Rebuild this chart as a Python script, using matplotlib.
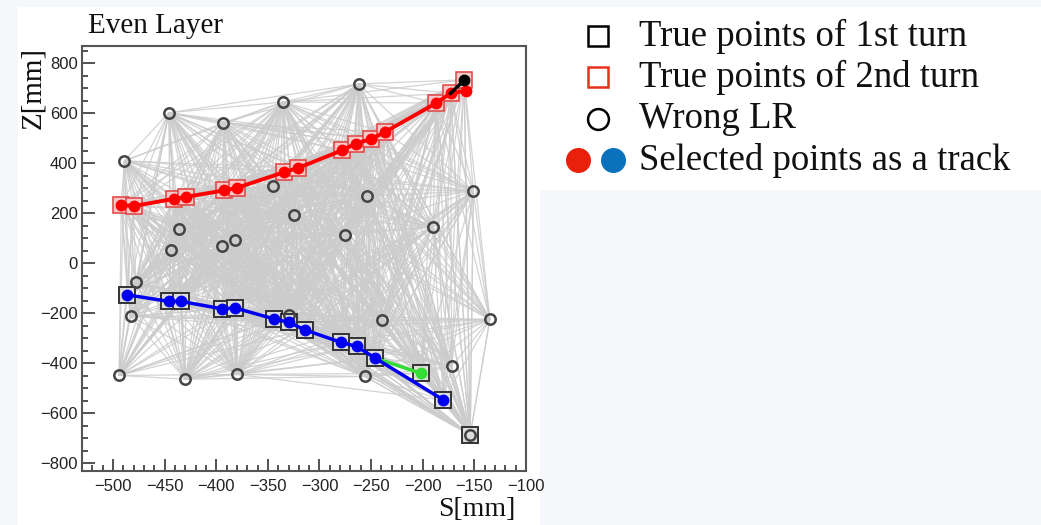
import matplotlib
matplotlib.use("Agg")
import matplotlib.pyplot as plt
from matplotlib.patches import Rectangle
from matplotlib.ticker import MultipleLocator
from matplotlib.lines import Line2D
import numpy as np

# ---------------- data ----------------
# True points of 2nd turn (red squares)
red_sq_s = [-492, -480, -441, -429, -392, -380, -334, -321, -278, -265, -250, -237, -187, -173, -160]
red_sq_z = [233, 228, 257, 265, 291, 301, 364, 380, 451, 478, 496, 523, 640, 679, 733]
# Selected points (red track)
red_trk_s = [-492, -480, -441, -429, -392, -380, -334, -321, -278, -265, -250, -237, -187, -173, -158]
red_trk_z = [233, 228, 257, 265, 291, 301, 364, 380, 451, 478, 496, 523, 640, 679, 689]
# black selected segment
blk_s = [-173, -160]
blk_z = [679, 731]
# True points of 1st turn (black squares)
blk_sq_s = [-486, -446, -434, -394, -382, -344, -330, -314, -279, -264, -246, -180, -202, -154]
blk_sq_z = [-127, -153, -153, -183, -179, -223, -236, -267, -317, -333, -380, -547, -440, -687]
# Selected points (blue track)
blue_trk_s = [-486, -446, -434, -394, -382, -344, -330, -314, -279, -264, -246, -180]
blue_trk_z = [-127, -153, -153, -183, -179, -223, -236, -267, -317, -333, -380, -547]
# green branch
green_s = [-246, -202]
green_z = [-380, -440]
# Wrong LR (open circles)
wlr_s = [-489, -446, -393, -335, -262, -345, -325, -254, -151, -436, -444, -394, -382, -275, -190,
         -478, -483, -330, -239, -135, -494, -430, -380, -256, -172, -154]
wlr_z = [409, 601, 561, 644, 716, 309, 192, 269, 288, 136, 51, 69, 91, 113, 144,
         -76, -212, -207, -229, -225, -449, -464, -445, -453, -412, -687]

x_ticks = [-500, -450, -400, -350, -300, -250, -200, -150, -100]
y_ticks = [-800, -600, -400, -200, 0, 200, 400, 600, 800]

legend_labels = ["True points of 1st turn", "True points of 2nd turn", "Wrong LR",
                 "Selected points as a track"]

# ---------------- figure ----------------
W, H = 1041, 525
fig = plt.figure(figsize=(W / 100, H / 100), dpi=100)
fig.patch.set_facecolor("#f5f7fa")

def fx(px):
    return px / W

def fy(py):
    return 1 - py / H

fig.patches.append(Rectangle((fx(18), 0), fx(540) - fx(18), fy(7), transform=fig.transFigure,
                             facecolor="white", edgecolor="none", zorder=-10))
fig.patches.append(Rectangle((fx(540), fy(190)), 1 - fx(540), fy(7) - fy(190),
                             transform=fig.transFigure, facecolor="white", edgecolor="none",
                             zorder=-10))

ax = fig.add_axes([fx(82), fy(471), fx(526) - fx(82), fy(46) - fy(471)])
ax.set_zorder(2)
ax.set_facecolor("white")
ax.set_xlim(-530, -100)
ax.set_ylim(-831, 868)

# gray candidate mesh: every pair of hits within 200 mm in S
all_s = np.array(red_sq_s + blk_sq_s + wlr_s, dtype=float)
all_z = np.array(red_sq_z + blk_sq_z + wlr_z, dtype=float)
n = len(all_s)
for i in range(n):
    for j in range(i + 1, n):
        if abs(all_s[i] - all_s[j]) <= 200:
            ax.plot([all_s[i], all_s[j]], [all_z[i], all_z[j]], color="#cccccc", lw=0.9,
                    alpha=0.85, zorder=1, solid_capstyle="butt")

# squares
ax.plot(red_sq_s, red_sq_z, ls="none", marker="s", ms=11.5, mfc="#f6c9c9", mec="#e04040",
        mew=1.1, zorder=3)
ax.plot(blk_sq_s, blk_sq_z, ls="none", marker="s", ms=11.5, mfc="#dddddd", mec="#333333",
        mew=1.4, zorder=3)
# wrong LR circles
ax.plot(wlr_s, wlr_z, ls="none", marker="o", ms=7.5, mfc="none", mec="#444444", mew=1.8, zorder=4)

# tracks
ax.plot(red_trk_s, red_trk_z, color="#ff0000", lw=2.8, marker="o", ms=7.5, mfc="#ff0000",
        mec="#ff0000", zorder=5)
ax.plot(blk_s, blk_z, color="black", lw=2.5, zorder=5)
ax.plot(blk_s[1:], blk_z[1:], ls="none", marker="o", ms=7.5, color="black", zorder=6)
ax.plot(green_s, green_z, color="#33dd33", lw=2.5, zorder=5)
ax.plot(green_s[1:], green_z[1:], ls="none", marker="o", ms=7.5, color="#33dd33", zorder=6)
ax.plot(blue_trk_s, blue_trk_z, color="#0000ee", lw=2.5, marker="o", ms=7.5, mfc="#0000ee",
        mec="#0000ee", zorder=6)

# axes styling (ROOT-like)
for sp in ax.spines.values():
    sp.set_color("#555555")
    sp.set_linewidth(1.5)
ax.set_xticks(x_ticks)
ax.set_yticks(y_ticks)
ax.set_xticklabels([f"\u2212{abs(v)}" if v < 0 else f"{v}" for v in x_ticks])
ax.set_yticklabels([f"\u2212{abs(v)}" if v < 0 else f"{v}" for v in y_ticks])
ax.xaxis.set_minor_locator(MultipleLocator(10))
ax.yaxis.set_minor_locator(MultipleLocator(50))
ax.tick_params(which="both", direction="in", color="#444444", width=1.3,
               labelsize=12, labelcolor="#222222")
ax.tick_params(which="major", length=9)
ax.tick_params(which="minor", length=4.5)
ax.tick_params(axis="x", which="major", pad=6)
ax.tick_params(axis="y", which="major", pad=3)
for lab in ax.get_xticklabels() + ax.get_yticklabels():
    lab.set_family(["Liberation Sans", "DejaVu Sans"])

serif = ["Liberation Serif", "DejaVu Serif"]
fig.text(fx(88), fy(26), "Even Layer", family=serif, fontsize=21, ha="left", va="center",
         color="#111111")
fig.text(fx(515), fy(509), "S[mm]", family=serif, fontsize=20, ha="right", va="center",
         color="#111111")
fig.text(fx(33), fy(88), "Z[mm]", family=serif, fontsize=21, ha="center", va="center",
         rotation=90, color="#111111")

# legend (manual)
ly = [36, 77, 119, 160]
fig.add_artist(Line2D([fx(598)], [fy(ly[0])], marker="s", ms=15, mfc="none", mec="black",
                      mew=1.8, transform=fig.transFigure))
fig.add_artist(Line2D([fx(598)], [fy(ly[1])], marker="s", ms=15, mfc="none", mec="#e8301c",
                      mew=1.8, transform=fig.transFigure))
fig.add_artist(Line2D([fx(598)], [fy(ly[2])], marker="o", ms=15, mfc="none", mec="black",
                      mew=1.8, transform=fig.transFigure))
fig.add_artist(Line2D([fx(578)], [fy(ly[3])], marker="o", ms=17, mfc="#e8200c", mec="#e8200c",
                      transform=fig.transFigure))
fig.add_artist(Line2D([fx(613)], [fy(ly[3])], marker="o", ms=17, mfc="#0a72bd", mec="#0a72bd",
                      transform=fig.transFigure))
for y, lab in zip(ly, legend_labels):
    fig.text(fx(639), fy(y), lab, family=serif, fontsize=26.5, ha="left", va="center",
             color="#111111")

fig.savefig("out.png", dpi=100, facecolor=fig.get_facecolor())
